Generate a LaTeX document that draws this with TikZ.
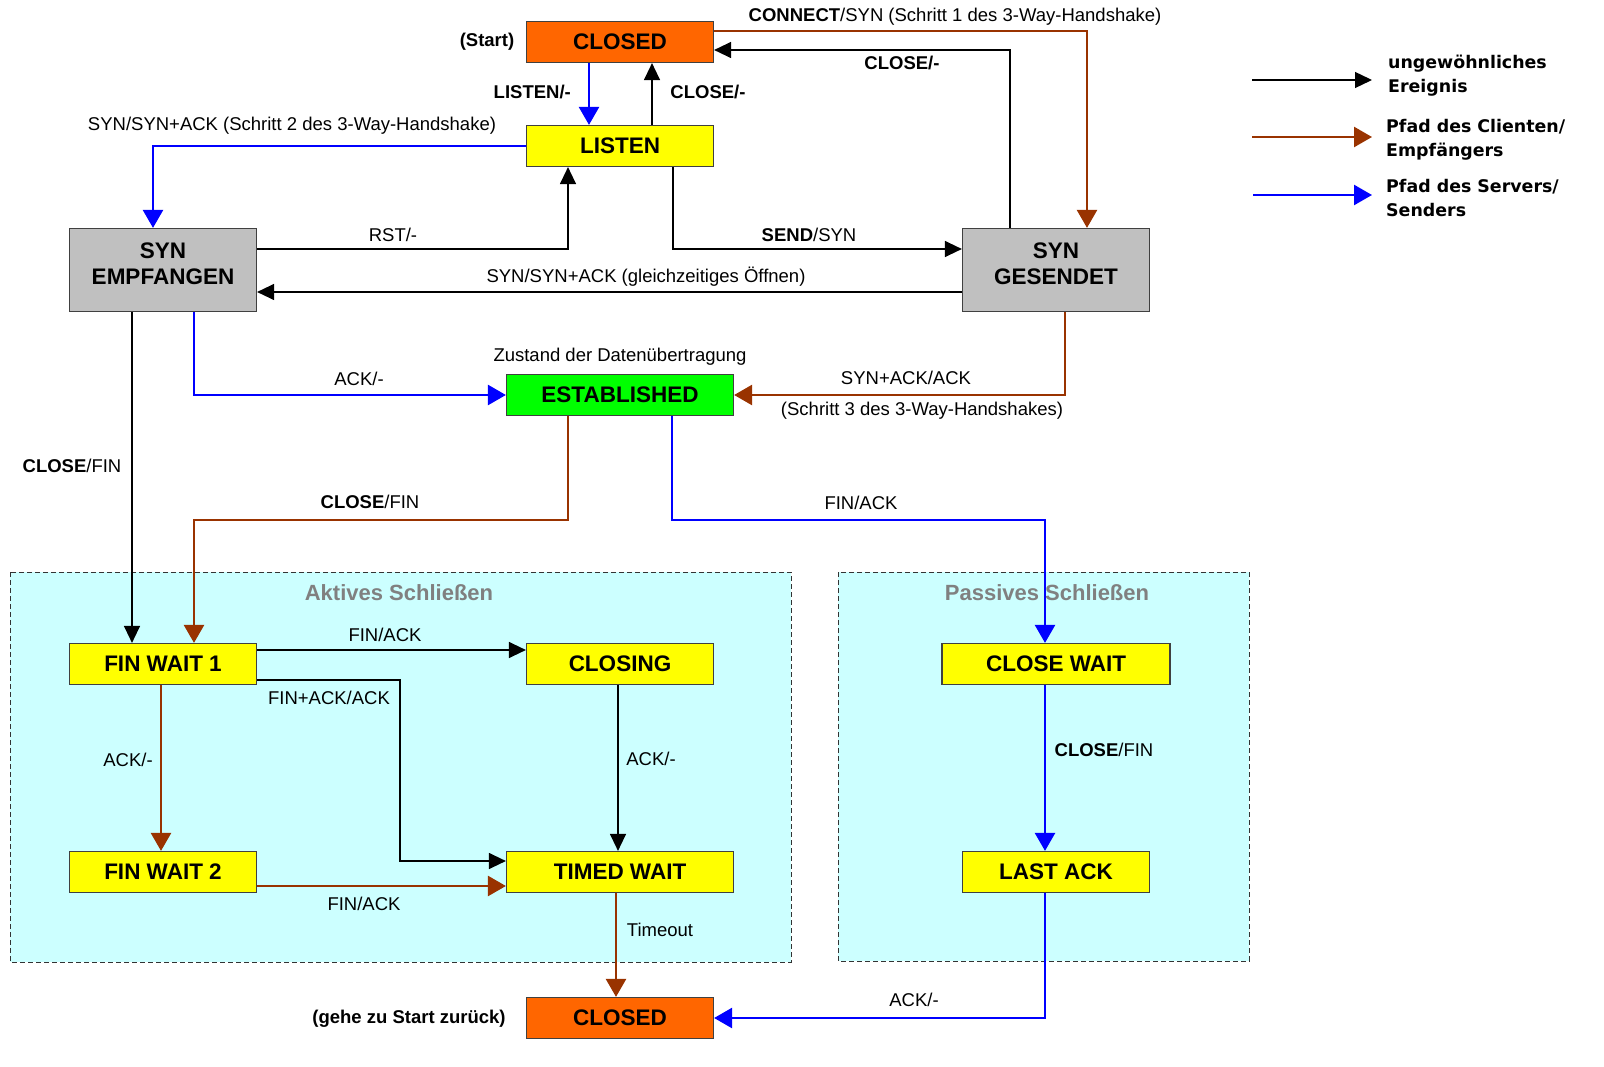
\documentclass[tikz,border=0pt]{standalone}
\usepackage{fontspec}
\setmainfont{Liberation Sans}
\newfontfamily\legendfont{DejaVu Sans}
\usetikzlibrary{arrows.meta}
\definecolor{stclosed}{HTML}{FF6600}
\definecolor{styellow}{HTML}{FFFF00}
\definecolor{stgray}{HTML}{C0C0C0}
\definecolor{stgreen}{HTML}{00FF00}
\definecolor{regcyan}{HTML}{CCFFFF}
\definecolor{clientbrown}{HTML}{993300}
\definecolor{serverblue}{HTML}{0000FF}
\begin{document}
\begin{tikzpicture}[x=1pt, y=-1pt,
    state/.style={draw=black!75, line width=1.2pt, inner sep=0pt, minimum height=41pt,
        minimum width=187pt, align=center, font=\fontsize{22.5}{26}\selectfont\bfseries},
    lbl/.style={inner sep=0pt, font=\fontsize{18.5}{22}\selectfont},
    blbl/.style={lbl, font=\fontsize{18.5}{22}\selectfont\bfseries},
    legtext/.style={inner sep=0pt, anchor=west, align=left, font=\legendfont\bfseries\fontsize{17.4}{24}\selectfont},
    region/.style={draw=black!80, line width=1pt, dash pattern=on 5pt off 3pt, fill=regcyan},
    regtitle/.style={inner sep=0pt, text=black!50, font=\fontsize{22}{26}\selectfont\bfseries},
    evt/.style={draw=black, line width=1.3pt, -{Triangle[length=17pt,width=16pt]}},
    cli/.style={draw=clientbrown, line width=2.5pt, -{Triangle[length=18pt,width=20pt]}},
    srv/.style={draw=serverblue, line width=2.5pt, -{Triangle[length=18pt,width=20pt]}}]
\useasboundingbox (0,0) rectangle (1604,1067);

% closing areas
\draw[region] (10,572) rectangle (791,962);
\draw[region] (838,572) rectangle (1249,961);
\node[regtitle] (t-aktiv) at (399,593) {Aktives Schließen};
\node[regtitle] (t-passiv) at (1047,593) {Passives Schließen};

% states
\node[state, fill=stclosed] (closedA) at (620,42) {CLOSED};
\node[state, fill=styellow] (listen) at (620,146) {LISTEN};
\node[state, fill=stgray, minimum height=83pt, text depth=13pt] (synem) at (163,270) {SYN\\EMPFANGEN};
\node[state, fill=stgray, minimum height=83pt, text depth=13pt] (syngs) at (1056,270) {SYN\\GESENDET};
\node[state, fill=stgreen, minimum width=227pt] (estab) at (620,395) {ESTABLISHED};
\node[state, fill=styellow] (fw1) at (163,664) {FIN WAIT 1};
\node[state, fill=styellow] (closing) at (620,664) {CLOSING};
\node[state, fill=styellow] (fw2) at (163,872) {FIN WAIT 2};
\node[state, fill=styellow, minimum width=227pt] (timed) at (620,872) {TIMED WAIT};
\node[state, fill=styellow, minimum width=228pt] (clwait) at (1056,664) {CLOSE WAIT};
\node[state, fill=styellow] (lastack) at (1056,872) {LAST ACK};
\node[state, fill=stclosed] (closedB) at (620,1018) {CLOSED};

\node[blbl] (n-start) at (487,42) {(Start)};
\node[blbl] (n-back) at (409,1019) {(gehe zu Start zurück)};
\node[lbl] (n-daten) at (620,357) {Zustand der Datenübertragung};

% connection setup
\draw[srv] ([xshift=-31pt]closedA.south) -- ([xshift=-31pt]listen.north);
\draw[evt] ([xshift=32pt]listen.north) -- ([xshift=32pt]closedA.south);
\draw[cli] ([yshift=11pt]closedA.east) -| ([xshift=31pt]syngs.north);
\draw[evt] ([xshift=-46pt]syngs.north) |- ([yshift=-8pt]closedA.east);
\draw[srv] (listen.west) -| ([xshift=-10pt]synem.north);
\draw[evt] ([yshift=21pt]synem.east) -| ([xshift=-52pt]listen.south);
\draw[evt] ([xshift=53pt]listen.south) |- ([yshift=21pt]syngs.west);
\draw[evt] ([yshift=-22pt]syngs.west) -- ([yshift=-22pt]synem.east);
\draw[srv] ([xshift=31pt]synem.south) |- (estab.west);
\draw[cli] ([xshift=9pt]syngs.south) |- (estab.east);

\node[lbl] (l-connect) at (955,17) {\textbf{CONNECT}/SYN (Schritt 1 des 3-Way-Handshake)};
\node[blbl] (l-close1) at (902,63) {CLOSE/-};
\node[blbl, anchor=east] (l-listen) at (571,92) {LISTEN/-};
\node[blbl] (l-close2) at (708,92) {CLOSE/-};
\node[lbl] (l-syn2) at (292,126) {SYN/SYN+ACK (Schritt 2 des 3-Way-Handshake)};
\node[lbl] (l-rst) at (393,235) {RST/-};
\node[lbl] (l-send) at (809,235) {\textbf{SEND}/SYN};
\node[lbl] (l-simul) at (646,277) {SYN/SYN+ACK (gleichzeitiges Öffnen)};
\node[lbl] (l-ack1) at (359,379) {ACK/-};
\node[lbl] (l-synack) at (906,378) {SYN+ACK/ACK};
\node[lbl] (l-syn3) at (922,411) {(Schritt 3 des 3-Way-Handshakes)};

% connection teardown
\draw[evt] ([xshift=-31pt]synem.south) -- ([xshift=-31pt]fw1.north);
\draw[cli] ([xshift=-52pt]estab.south) -- ++(0,104) -| ([xshift=31pt]fw1.north);
\draw[srv] ([xshift=52pt]estab.south) -- ++(0,104) -| ([xshift=-11pt]clwait.north);
\draw[evt] ([yshift=14pt]fw1.east) -- ([yshift=14pt]closing.west);
\draw[evt] ([yshift=-16pt]fw1.east) -- ++(143,0) |- ([yshift=11pt]timed.west);
\draw[cli] ([xshift=-2pt]fw1.south) -- ([xshift=-2pt]fw2.north);
\draw[evt] ([xshift=-2pt]closing.south) -- ([xshift=-2pt]timed.north);
\draw[cli] ([yshift=-14pt]fw2.east) -- ([yshift=-14pt]timed.west);
\draw[cli] ([xshift=-4pt]timed.south) -- ([xshift=-4pt]closedB.north);
\draw[srv] ([xshift=-11pt]clwait.south) -- ([xshift=-11pt]lastack.north);
\draw[srv] ([xshift=-11pt]lastack.south) |- (closedB.east);

\node[lbl] (l-closefin1) at (72,466) {\textbf{CLOSE}/FIN};
\node[lbl] (l-closefin2) at (370,502) {\textbf{CLOSE}/FIN};
\node[lbl] (l-finack1) at (861,503) {FIN/ACK};
\node[lbl] (l-finack2) at (385,635) {FIN/ACK};
\node[lbl] (l-finackack) at (329,698) {FIN+ACK/ACK};
\node[lbl] (l-ack2) at (128,760) {ACK/-};
\node[lbl] (l-ack3) at (651,759) {ACK/-};
\node[lbl] (l-finack3) at (364,904) {FIN/ACK};
\node[lbl] (l-timeout) at (660,930) {Timeout};
\node[lbl] (l-closefin3) at (1104,750) {\textbf{CLOSE}/FIN};
\node[lbl] (l-ack4) at (914,1000) {ACK/-};

% legend
\coordinate (lg1a) at (1252,80);  \coordinate (lg1b) at (1372,80);
\coordinate (lg2a) at (1252,137); \coordinate (lg2b) at (1372,137);
\coordinate (lg3a) at (1253,195); \coordinate (lg3b) at (1372,195);
\draw[evt] (lg1a) -- (lg1b);
\draw[cli] (lg2a) -- (lg2b);
\draw[srv] (lg3a) -- (lg3b);
\node[legtext] (lg1) at (1388,76) {ungewöhnliches\\Ereignis};
\node[legtext] (lg2) at (1386,140) {Pfad des Clienten/\\Empfängers};
\node[legtext] (lg3) at (1386,198) {Pfad des Servers/\\Senders};
\end{tikzpicture}
\end{document}
